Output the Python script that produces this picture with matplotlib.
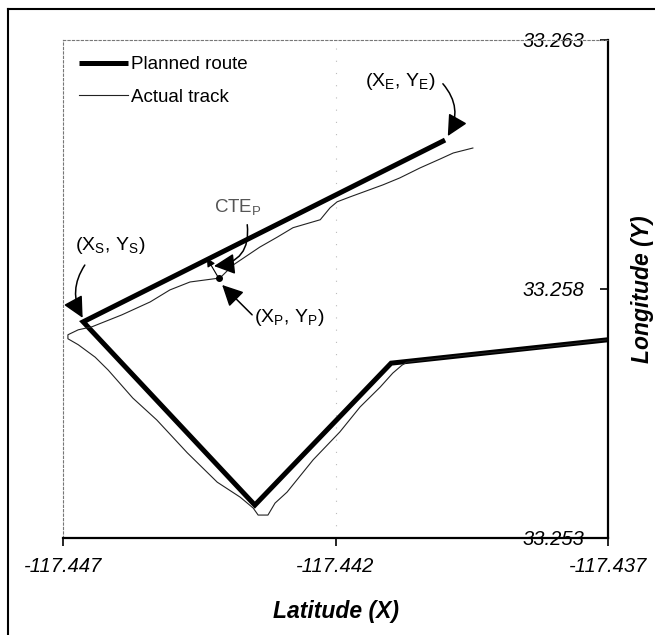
import matplotlib.pyplot as plt
from matplotlib.lines import Line2D

plt.rcParams['font.family'] = ['Liberation Sans', 'DejaVu Sans']

# planned route (thick line): end -> start -> bottom -> knee -> right edge
planned_x = [-117.43999, -117.44663, -117.44348, -117.44098, -117.43700]
planned_y = [33.26099, 33.25734, 33.25366, 33.25651, 33.25698]

# actual GPS track (thin line)
actual_x = [-117.43948, -117.43984, -117.44008, -117.44045, -117.44082, -117.44113,
            -117.44173, -117.44197, -117.44210, -117.44228, -117.44278, -117.44307,
            -117.44339, -117.44388, -117.44412, -117.44467, -117.44504, -117.44540,
            -117.44592, -117.44647, -117.44672, -117.44691, -117.44691, -117.44672,
            -117.44641, -117.44617, -117.44572, -117.44528, -117.44472, -117.44417,
            -117.44375, -117.44351, -117.44342, -117.44324, -117.44311, -117.44289,
            -117.44241, -117.44192, -117.44155, -117.44118, -117.44095, -117.44078,
            -117.44069, -117.43972, -117.43843, -117.43700]
actual_y = [33.26083, 33.26073, 33.26061, 33.26043, 33.26023, 33.26009,
            33.25985, 33.25975, 33.25963, 33.25939, 33.25923, 33.25904,
            33.25884, 33.25848, 33.25822, 33.25814, 33.25798, 33.25774,
            33.25748, 33.25724, 33.25718, 33.25708, 33.25700, 33.25688,
            33.25663, 33.25637, 33.25581, 33.25537, 33.25471, 33.25412,
            33.25382, 33.25360, 33.25346, 33.25346, 33.25370, 33.25392,
            33.25457, 33.25513, 33.25563, 33.25603, 33.25631, 33.25647,
            33.25653, 33.25666, 33.25680, 33.25698]

# cross-track error point P on the actual track and its foot on the planned route
p_point = (-117.44414, 33.25821)
p_foot = (-117.44436, 33.25862)

x_ticks = [-117.447, -117.442, -117.437]
y_ticks = [33.253, 33.258, 33.263]

fig = plt.figure(figsize=(6.55, 6.35), dpi=100)
fig.patch.set_facecolor('w')
ax = fig.add_axes([0.0962, 0.1528, 0.8321, 0.7843])

ax.plot(planned_x, planned_y, color='black', lw=3.6, solid_capstyle='butt',
        solid_joinstyle='miter', label='Planned route')
ax.plot(actual_x, actual_y, color='#222222', lw=0.8, label='Actual track')

ax.set_xlim(x_ticks[0], x_ticks[-1])
ax.set_ylim(y_ticks[0], y_ticks[-1])

# faint dotted gridline in the middle
ax.axvline(x_ticks[1], color='#bbbbbb', lw=0.8, ls=(0, (1, 10)), zorder=0)

# ticks
ax.set_xticks(x_ticks, labels=['%.3f' % v for v in x_ticks], fontsize=14.5, fontstyle='italic')
ax.tick_params(axis='x', direction='out', length=6, width=1.2, pad=8)
ax.yaxis.tick_right()
ax.set_yticks(y_ticks, labels=['%.3f' % v for v in y_ticks], fontsize=14.5,
              fontstyle='italic', ha='right')
ax.tick_params(axis='y', direction='in', length=6, width=1.2, pad=-17)

# spines
for s in ['top', 'left']:
    ax.spines[s].set_linestyle((0, (2, 2)))
    ax.spines[s].set_color('#777777')
    ax.spines[s].set_linewidth(0.8)
for s in ['bottom', 'right']:
    ax.spines[s].set_linewidth(1.6)

ax.set_xlabel('Latitude (X)', fontsize=16.5, fontweight='bold', fontstyle='italic')
ax.xaxis.set_label_coords(0.5, -0.125)
ax.yaxis.set_label_position('right')
ax.set_ylabel('Longitude (Y)', fontsize=16.5, fontweight='bold', fontstyle='italic')
ax.yaxis.set_label_coords(1.042, 0.5)

ax.legend(loc='upper left', bbox_to_anchor=(0.0, 1.0), frameon=False, fontsize=13.5,
          handlelength=2.6, handletextpad=0.15, labelspacing=0.82, borderaxespad=0.46)

# annotations
big_head = dict(arrowstyle='-|>,head_length=0.8,head_width=0.4', mutation_scale=16,
                color='black', lw=1.1, shrinkA=0, shrinkB=0)

ax.text(-117.44614, 33.25888, r'(X$_\mathregular{S}$, Y$_\mathregular{S}$)',
        fontsize=14, ha='center', va='center')
ax.annotate('', xy=(-117.44664, 33.25742), xytext=(-117.44660, 33.25848),
            arrowprops=dict(big_head, connectionstyle='arc3,rad=0.3'))

ax.text(-117.44082, 33.26216, r'(X$_\mathregular{E}$, Y$_\mathregular{E}$)',
        fontsize=14, ha='center', va='center')
ax.annotate('', xy=(-117.43994, 33.26107), xytext=(-117.44003, 33.26212),
            arrowprops=dict(big_head, connectionstyle='arc3,rad=-0.35'))

ax.text(-117.44379, 33.25963, r'CTE$_\mathregular{P}$', color='#555555',
        fontsize=13.5, ha='center', va='center')
ax.annotate('', xy=(-117.44423, 33.25846), xytext=(-117.44362, 33.25929),
            arrowprops=dict(big_head, connectionstyle='arc3,rad=-0.5'))

ax.text(-117.44285, 33.25743, r'(X$_\mathregular{P}$, Y$_\mathregular{P}$)',
        fontsize=14, ha='center', va='center')
ax.annotate('', xy=(-117.44408, 33.25808), xytext=(-117.44353, 33.25748),
            arrowprops=big_head)

ax.annotate('', xy=p_foot, xytext=p_point,
            arrowprops=dict(arrowstyle='-|>,head_length=0.5,head_width=0.25',
                            mutation_scale=10, color='black', lw=0.8,
                            shrinkA=0, shrinkB=0))
ax.plot(*p_point, 'o', ms=4, color='black')

# outer frame (top and left edges visible)
fig.add_artist(Line2D([8 / 655, 8 / 655], [0, 1 - 9 / 635], transform=fig.transFigure,
                      color='black', lw=1.5))
fig.add_artist(Line2D([8 / 655, 1], [1 - 9 / 635, 1 - 9 / 635], transform=fig.transFigure,
                      color='black', lw=1.5))

plt.savefig('out.png', dpi=100)
